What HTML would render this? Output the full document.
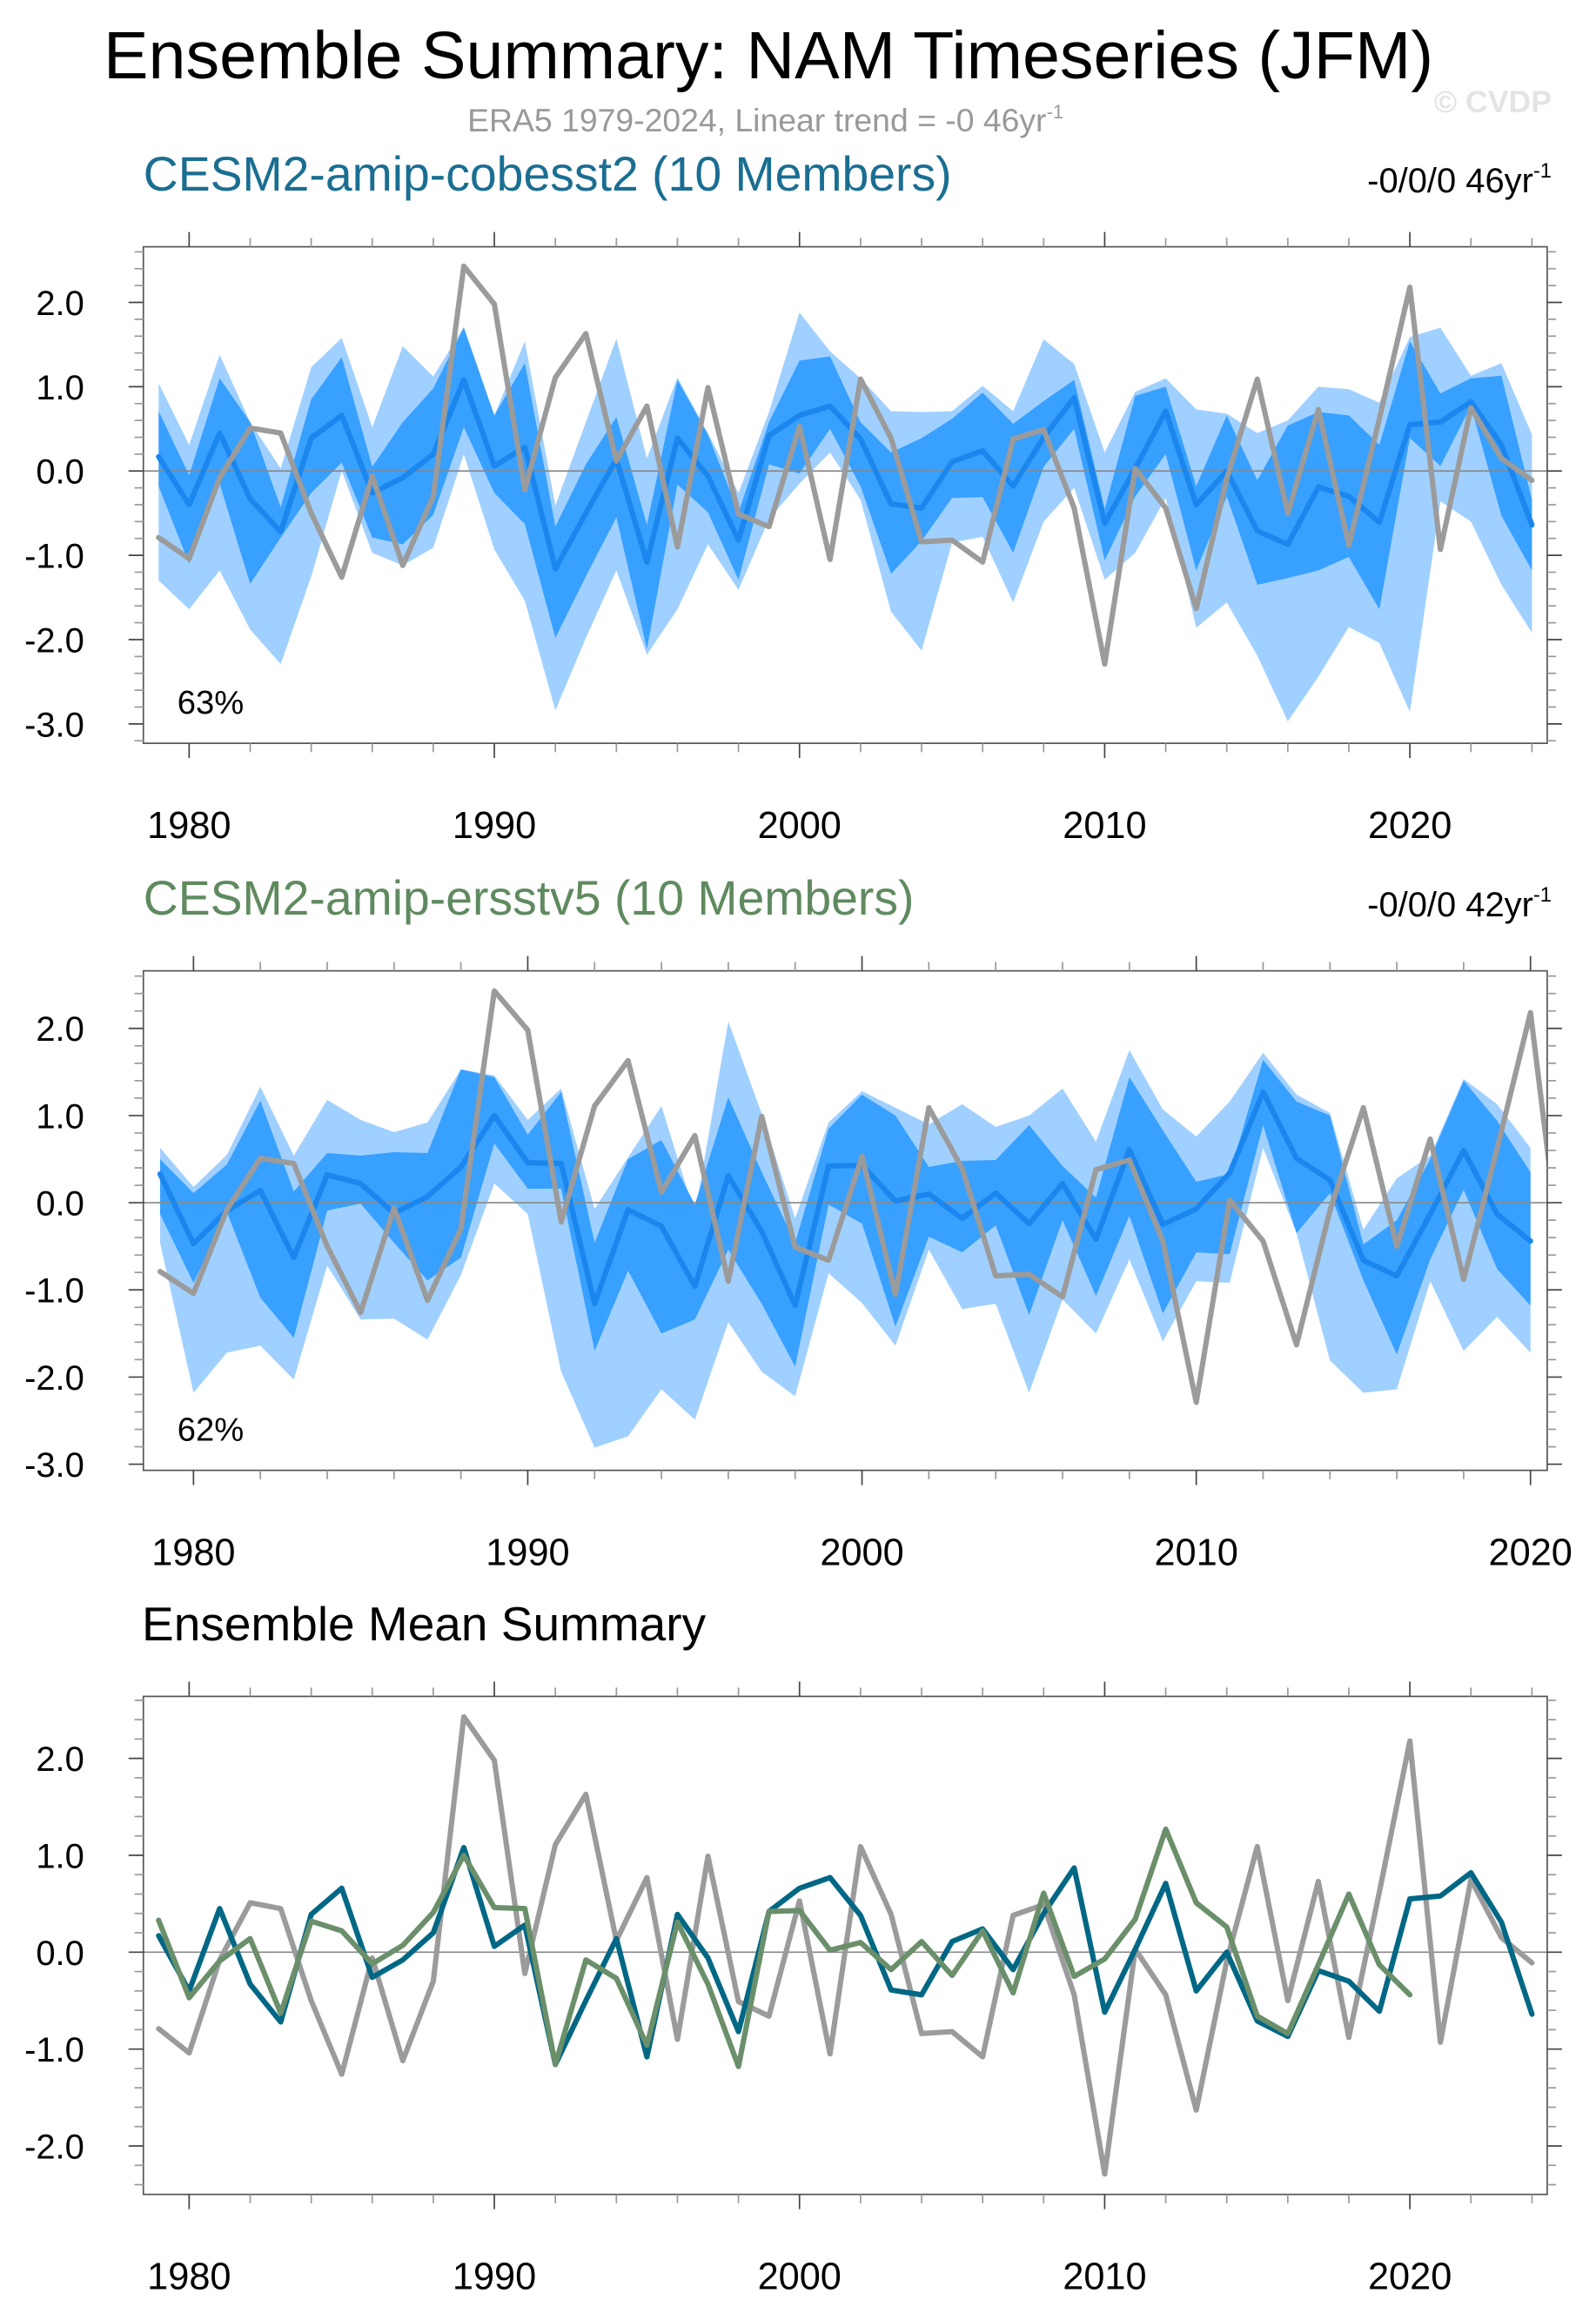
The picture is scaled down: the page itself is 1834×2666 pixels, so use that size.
<!DOCTYPE html>
<html><head><meta charset="utf-8"><style>
html,body{margin:0;padding:0;background:#fff}
svg{display:block}
text{font-family:"Liberation Sans",sans-serif}
</style></head><body>
<svg id="chart" width="1834" height="2666" viewBox="0 0 1080 1570" xmlns="http://www.w3.org/2000/svg">
<text x="520" y="53" font-size="45.5" text-anchor="middle" fill="#000">Ensemble Summary: NAM Timeseries (JFM)</text>
<text x="518" y="89" font-size="22" text-anchor="middle" fill="#999">ERA5 1979-2024, Linear trend = -0 46yr<tspan font-size="13" dy="-9">-1</tspan></text>
<text x="1050" y="76" font-size="21" font-weight="bold" text-anchor="end" fill="#e4e4e4">© CVDP</text>
<text x="97" y="129" font-size="32.6" fill="#1a6e92">CESM2-amip-cobesst2 (10 Members)</text>
<text x="1050" y="130" font-size="23.5" text-anchor="end" fill="#000">-0/0/0 46yr<tspan font-size="14" dy="-10">-1</tspan></text>
<text x="97" y="619" font-size="32.6" fill="#5f8a5f">CESM2-amip-ersstv5 (10 Members)</text>
<text x="1050" y="620" font-size="23.5" text-anchor="end" fill="#000">-0/0/0 42yr<tspan font-size="14" dy="-10">-1</tspan></text>
<text x="96" y="1110" font-size="32.4" fill="#000">Ensemble Mean Summary</text>
<g id="plots"></g>
</svg>
<script>
const era5 = [-0.79,-1.04,-0.08,0.51,0.45,-0.5,-1.26,-0.06,-1.12,-0.3,2.43,1.98,-0.22,1.11,1.63,0.12,0.77,-0.9,0.99,-0.51,-0.66,0.53,-1.05,1.09,0.39,-0.84,-0.82,-1.08,0.38,0.49,-0.44,-2.29,0.03,-0.44,-1.63,-0.09,1.09,-0.5,0.73,-0.88,0.62,2.18,-0.93,0.75,0.15,-0.11];
const cobMean = [0.17,-0.4,0.45,-0.33,-0.72,0.39,0.66,-0.26,-0.08,0.2,1.08,0.06,0.28,-1.16,-0.5,0.14,-1.08,0.39,-0.06,-0.82,0.42,0.66,0.77,0.38,-0.39,-0.44,0.11,0.24,-0.18,0.4,0.87,-0.62,0.03,0.71,-0.4,0.0,-0.71,-0.87,-0.19,-0.3,-0.61,0.55,0.58,0.82,0.31,-0.64];
const cobMax = [1.04,0.31,1.38,0.58,0.03,1.23,1.58,0.52,1.48,1.12,1.71,0.66,1.54,-0.41,0.58,1.57,0.15,1.11,0.45,-0.26,0.7,1.88,1.42,1.1,0.71,0.7,0.71,1.01,0.71,1.56,1.27,0.22,0.94,1.1,0.73,0.68,0.45,0.6,1.0,0.97,0.81,1.59,1.7,1.13,1.28,0.43];
const cobHi = [0.71,-0.05,1.1,0.58,-0.43,0.85,1.35,0.05,0.58,0.98,1.7,0.66,1.28,-0.66,0.08,0.64,-0.64,1.08,0.43,-0.49,0.58,1.31,1.36,0.58,0.22,0.39,0.62,0.93,0.56,0.83,1.08,-0.45,0.89,1.0,-0.18,0.66,-0.11,0.54,0.7,0.66,0.31,1.54,0.92,1.1,1.13,-0.34];
const cobLo = [-0.18,-1.1,-0.15,-1.34,-0.79,-0.26,0.1,-0.79,-0.87,-0.52,0.52,-0.26,-0.63,-1.98,-1.25,-0.55,-2.11,-0.16,-0.49,-1.29,0.08,-0.03,0.5,-0.18,-1.22,-0.83,-0.32,-0.31,-0.97,0.05,0.5,-1.06,-0.3,0.2,-1.18,-0.3,-1.35,-1.27,-1.18,-1.02,-1.64,0.39,0.06,0.77,-0.53,-1.18];
const cobMin = [-1.3,-1.64,-1.18,-1.88,-2.29,-1.25,0.0,-0.97,-1.12,-0.91,0.2,-0.93,-1.54,-2.84,-1.98,-1.18,-2.18,-1.64,-0.87,-1.41,-0.57,-0.15,0.22,-0.34,-1.67,-2.13,-0.85,-0.78,-1.56,-0.6,-0.2,-1.29,-0.97,-0.32,-1.86,-1.56,-2.19,-2.97,-2.44,-1.85,-2.04,-2.86,-0.36,-0.6,-1.35,-1.92];
const ersMean = [0.33,-0.47,-0.09,0.14,-0.63,0.32,0.22,-0.12,0.07,0.41,1.0,0.46,0.45,-1.16,-0.08,-0.27,-0.96,0.31,-0.33,-1.18,0.42,0.43,0.02,0.1,-0.18,0.11,-0.24,0.22,-0.42,0.61,-0.25,-0.07,0.34,1.27,0.51,0.26,-0.66,-0.84,-0.13,0.6,-0.13,-0.44];
const ersMax = [0.63,0.18,0.55,1.33,0.54,1.18,0.95,0.81,0.92,1.53,1.46,0.95,1.31,-0.07,0.52,1.11,-0.13,2.08,1.02,-0.18,0.92,1.28,1.09,0.9,1.13,0.87,1.0,1.31,0.7,1.75,1.07,0.76,1.16,1.72,1.24,1.03,-0.31,0.28,0.54,1.42,1.13,0.63];
const ersHi = [0.5,0.11,0.44,1.17,0.13,0.57,0.54,0.58,0.57,1.53,1.44,0.78,1.27,-0.46,0.5,0.72,-0.02,1.21,0.35,-0.46,0.85,1.24,1.0,0.41,0.48,0.49,0.89,0.42,0.06,1.44,0.83,0.24,0.33,1.64,1.16,1.0,-0.48,-0.2,0.5,1.4,0.94,0.35];
const ersLo = [-0.13,-0.92,-0.11,-1.09,-1.55,-0.09,-0.01,-0.46,-0.89,-0.63,0.68,0.16,0.16,-1.7,-0.78,-1.5,-1.34,-0.54,-1.16,-1.88,-0.02,-0.24,-1.42,-0.39,-0.57,-0.26,-1.29,-0.2,-1.07,-0.15,-1.27,-0.57,-0.59,0.89,-0.35,0.11,-0.89,-1.74,-0.65,0.15,-0.76,-1.18];
const ersMin = [-0.46,-2.18,-1.72,-1.64,-2.03,-0.72,-1.34,-1.33,-1.57,-0.83,0.22,-0.13,-1.94,-2.81,-2.68,-2.14,-2.49,-1.37,-1.94,-2.22,-0.81,-1.15,-1.64,-0.54,-1.22,-1.16,-2.18,-1.11,-1.5,-0.65,-1.59,-0.9,-0.92,0.63,-0.35,-1.81,-2.18,-2.14,-0.9,-1.7,-1.31,-1.72];
const yTickVals = [2,1,0,-1,-2,-3];
const yTickLabels = ["2.0","1.0","0.0","-1.0","-2.0","-3.0"];
const xTickYears = [1980,1990,2000,2010,2020];

const NS = "http://www.w3.org/2000/svg";
const root = document.getElementById('plots');
function mk(tag, attrs, parent){const e=document.createElementNS(NS,tag);for(const k in attrs)e.setAttribute(k,attrs[k]);(parent||root).appendChild(e);return e;}

function panel(cfg, idx){
  const L=97,R=1047,T=cfg.top,B=cfg.bot;
  const sx=y=>L+(y-1978.5)/(cfg.x1-1978.5)*(R-L);
  const sy=v=>T+(cfg.ymax-v)/(cfg.ymax-cfg.ymin)*(B-T);
  const g=mk('g',{});
  
  
  const cid='clip'+idx;
  const cp=mk('clipPath',{id:cid},g);mk('rect',{x:L,y:T,width:R-L,height:B-T},cp);
  const pg=mk('g',{'clip-path':'url(#'+cid+')'},g);
  function band(lo,hi,color,name){
    let d='';for(let i=0;i<hi.length;i++)d+=(i?'L':'M')+sx(1979+i)+' '+sy(hi[i]);
    for(let i=lo.length-1;i>=0;i--)d+='L'+sx(1979+i)+' '+sy(lo[i]);
    const p=mk('path',{d:d+'Z',fill:color},pg);
    
    
  }
  function line(vals,color,w,name){
    let d='';vals.forEach((v,i)=>{d+=(i?'L':'M')+sx(1979+i)+' '+sy(v);});
    const p=mk('path',{d:d,fill:'none',stroke:color,'stroke-width':w,'stroke-linejoin':'round','stroke-linecap':'round'},pg);
    
    
  }
  if(cfg.bands){band(cfg.bands[0],cfg.bands[3],'#a0d0ff','ensemble-range-band');band(cfg.bands[1],cfg.bands[2],'#38a0ff','ensemble-interquartile-band');}
  const z=mk('line',{x1:L,x2:R,y1:sy(0),y2:sy(0),stroke:'#888','stroke-width':1},pg);
  
  
  cfg.lines.forEach(l=>line(l[0],l[1],l[2],l[3]));
  const fr=mk('rect',{x:L,y:T,width:R-L,height:B-T,fill:'none',stroke:'#555','stroke-width':1},g);
  
  
  for(let v=Math.ceil(cfg.ymin*5)/5;v<=cfg.ymax+1e-9;v+=0.2){
    const vv=Math.round(v*10)/10, major=Math.abs(vv-Math.round(vv))<1e-6, len=major?10:6, y=sy(vv);
    mk('line',{x1:L-len,x2:L,y1:y,y2:y,stroke:major?'#444':'#999','stroke-width':1},g);
    mk('line',{x1:R,x2:R+len,y1:y,y2:y,stroke:major?'#444':'#999','stroke-width':1},g);
  }
  yTickVals.forEach((v,i)=>{if(v<cfg.ymin||v>cfg.ymax)return;
    const t=mk('text',{x:57,y:sy(v)+8.5,'font-size':23.5,'text-anchor':'end',fill:'#000'},g);t.textContent=yTickLabels[i];
    
    });
  for(let y=1980;y<=cfg.x1;y+=2){const major=y%10===0,len=major?10:6,x=sx(y);
    mk('line',{x1:x,x2:x,y1:B,y2:B+len,stroke:major?'#444':'#999','stroke-width':1},g);
    mk('line',{x1:x,x2:x,y1:T-len,y2:T,stroke:major?'#444':'#999','stroke-width':1},g);}
  xTickYears.forEach(yr=>{if(yr>cfg.x1)return;
    const t=mk('text',{x:sx(yr),y:B+64,'font-size':25.5,'text-anchor':'middle',fill:'#000'},g);t.textContent=yr;
    
    });
  if(cfg.pct){const t=mk('text',{x:120,y:B-20,'font-size':22.5,fill:'#000'},g);t.textContent=cfg.pct;
    
    }
}
panel({top:167,bot:503,ymin:-3.23,ymax:2.66,x1:2024.5,pct:'63%',bands:[cobMin,cobLo,cobHi,cobMax],
  lines:[[cobMean,'#1a86ee',3.6,'cobesst2-ensemble-mean-line'],[era5,'#9b9b9b',3.6,'era5-line']]},1);
panel({top:657,bot:995,ymin:-3.07,ymax:2.66,x1:2020.5,pct:'62%',bands:[ersMin,ersLo,ersHi,ersMax],
  lines:[[ersMean,'#1a86ee',3.6,'ersstv5-ensemble-mean-line'],[era5,'#9b9b9b',3.6,'era5-line']]},2);
panel({top:1148,bot:1485,ymin:-2.5,ymax:2.64,x1:2024.5,
  lines:[[era5,'#9b9b9b',3.6,'era5-line'],[cobMean,'#006785',3.6,'cobesst2-mean-line'],[ersMean,'#6a8f6a',3.6,'ersstv5-mean-line']]},3);
</script>
</body></html>
